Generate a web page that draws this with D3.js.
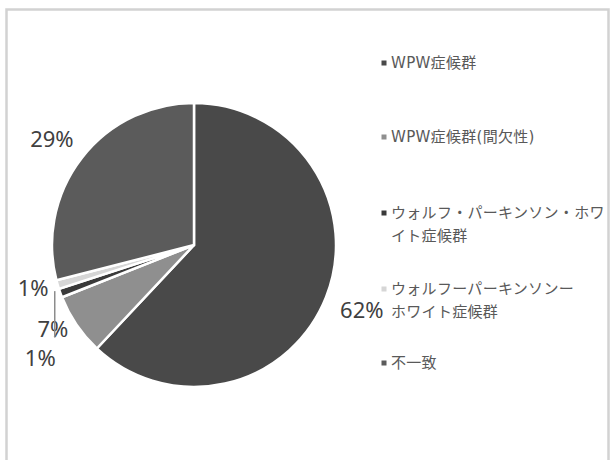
<!DOCTYPE html>
<html>
<head>
<meta charset="utf-8">
<script src="https://cdn.jsdelivr.net/npm/d3@7"></script>
<style>
  html, body { margin: 0; padding: 0; background: #ffffff; }
  svg { display: block; }
</style>
</head>
<body>
<svg id="chart" width="612" height="460"></svg>
<script>
// Categories and their shares (percent)
const categories = [
  "WPW症候群",
  "WPW症候群(間欠性)",
  "ウォルフ・パーキンソン・ホワイト症候群",
  "ウォルフーパーキンソンーホワイト症候群",
  "不一致"
];
const values = [62, 7, 1, 1, 29];

// Legend text, broken into lines as displayed
const legendLines = [
  ["WPW症候群"],
  ["WPW症候群(間欠性)"],
  ["ウォルフ・パーキンソン・ホワ", "イト症候群"],
  ["ウォルフーパーキンソンー", "ホワイト症候群"],
  ["不一致"]
];

// Slice fills
const colors = ["#494949", "#8f8f8f", "#3a3a3a", "#d6d6d6", "#5b5b5b"];

// Layout settings
const pieBox = { cx: 194, cy: 245, r: 142 };
const labelFont = { size: 22, family: "'Noto Sans', 'DejaVu Sans', sans-serif", color: "#404040" };
const legendFont = { size: 15, spacing: 0.3, family: "'DejaVu Sans', 'Noto Sans CJK JP', sans-serif", color: "#595959" };
const legendBox = { markerX: 384, textX: 391, lineGap: 23, rows: [63, 137, 213, 289, 363] };
// Per-label offsets for the outside-end data labels (collision adjustments)
const labelShift = [[10, 6], [-6, -6], [0, 59], [-4, -2], [-8, -10]];
const leaderFor = [false, false, true, false, false];

const svg = d3.select("#chart");

// Chart area frame
svg.append("rect")
  .attr("x", 6.5).attr("y", 9.5)
  .attr("width", 602).attr("height", 480)
  .attr("fill", "#ffffff")
  .attr("stroke", "#d2d2d2")
  .attr("stroke-width", 2.5);

const data = categories.map((c, i) => ({ name: c, value: values[i], color: colors[i], idx: i }));
const total = d3.sum(values);

const pie = d3.pie().sort(null).value(d => d.value);
const arcs = pie(data);
const arc = d3.arc().innerRadius(0).outerRadius(pieBox.r);

const g = svg.append("g").attr("transform", `translate(${pieBox.cx},${pieBox.cy})`);

g.selectAll("path.slice")
  .data(arcs)
  .join("path")
  .attr("class", "slice")
  .attr("d", arc)
  .attr("fill", d => d.data.color)
  .attr("stroke", "#ffffff")
  .attr("stroke-width", 2.5)
  .attr("stroke-linejoin", "miter");

// Data labels placed just outside each slice
const fmt = v => Math.round(v / total * 100) + "%";
const labels = g.selectAll("text.pct")
  .data(arcs)
  .join("text")
  .attr("class", "pct")
  .attr("font-family", labelFont.family)
  .attr("font-size", labelFont.size)
  .attr("fill", labelFont.color)
  .attr("text-anchor", "middle")
  .attr("dominant-baseline", "central")
  .text(d => fmt(d.data.value));

labels.each(function(d) {
  const t = d3.select(this);
  const w = this.getComputedTextLength();
  const h = labelFont.size * 0.9;
  const a = (d.startAngle + d.endAngle) / 2;
  const rr = pieBox.r + 6;
  const px = rr * Math.sin(a), py = -rr * Math.cos(a);
  const sh = labelShift[d.data.idx];
  const lx = px + (w / 2) * Math.sin(a) + sh[0];
  const ly = py - (h / 2) * Math.cos(a) + sh[1];
  t.attr("x", lx).attr("y", ly);
  if (leaderFor[d.data.idx]) {
    g.append("line")
      .attr("x1", px).attr("y1", py - 4)
      .attr("x2", px).attr("y2", ly - h / 2 - 10)
      .attr("stroke", "#8c8c8c")
      .attr("stroke-width", 1.5);
  }
});

// Legend
const legend = svg.append("g");
const items = legend.selectAll("g.item")
  .data(data)
  .join("g")
  .attr("class", "item")
  .attr("transform", (d, i) => `translate(0,${legendBox.rows[i]})`);

items.append("rect")
  .attr("x", legendBox.markerX - 2.5)
  .attr("y", -2.5)
  .attr("width", 5).attr("height", 5)
  .attr("fill", d => d.color);

items.each(function(d, i) {
  const t = d3.select(this).append("text")
    .attr("font-family", legendFont.family)
    .attr("font-size", legendFont.size)
    .attr("letter-spacing", legendFont.spacing)
    .attr("fill", legendFont.color)
    .attr("dominant-baseline", "central");
  legendLines[i].forEach((line, k) => {
    t.append("tspan")
      .attr("x", legendBox.textX)
      .attr("y", k * legendBox.lineGap)
      .text(line);
  });
});
</script>
</body>
</html>
